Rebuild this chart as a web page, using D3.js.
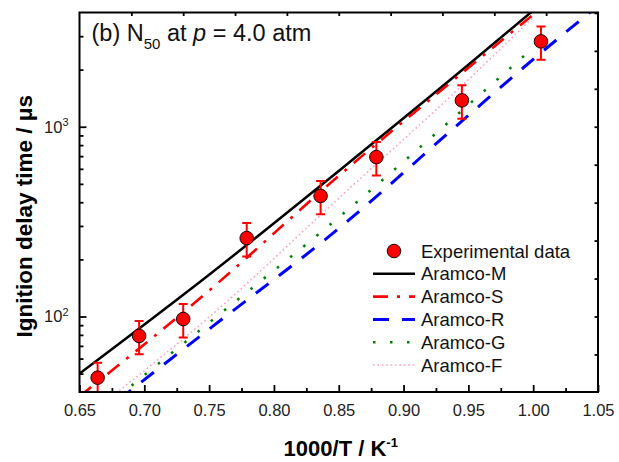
<!DOCTYPE html>
<html>
<head>
<meta charset="utf-8">
<script src="https://cdn.jsdelivr.net/npm/d3@7"></script>
<style>
  body { margin: 0; background: #fff; }
</style>
</head>
<body>
<div id="chart"></div>
<script>
const FONT = "'Liberation Sans', Arial, sans-serif";

// Experimental data: 1000/T, ignition delay (µs), ± error (µs)
const expX   = [0.664, 0.696, 0.730, 0.779, 0.836, 0.879, 0.945, 1.006];
const expY   = [47.6, 79, 97, 259, 432, 692, 1377, 2817];
const expErr = [9.5, 15.8, 19.4, 51.8, 86.4, 138, 275, 563];

// Model predictions
const mX = [0.65, 0.75, 0.85, 0.95, 1.0];
const mY = [50, 166, 585, 2120, 4100];
const sX = [0.65, 0.75, 0.85, 0.95, 1.0];
const sY = [37.9, 137, 551, 2044, 3900];
const rX = [0.68, 0.75, 0.85, 0.95, 1.0, 1.05];
const rY = [36.3, 85.8, 291, 1148, 2265, 4340];
const gX = [0.68, 0.75, 0.85, 0.95, 1.0];
const gY = [38, 92.8, 333, 1304, 2605];
const fX = [0.67, 0.75, 0.85, 0.95, 1.0];
const fY = [35.6, 99.3, 420, 1770, 3780];

// Ticks
const xMajor = [0.65, 0.70, 0.75, 0.80, 0.85, 0.90, 0.95, 1.00, 1.05];
const xMinor = [0.675, 0.725, 0.775, 0.825, 0.875, 0.925, 0.975, 1.025];
const xTop   = [0.69, 0.73, 0.77, 0.81, 0.85, 0.89, 0.93, 0.97, 1.01];
const yMajor = [100, 1000];
const yMinor = [50, 60, 70, 80, 90, 200, 300, 400, 500, 600, 700, 800, 900, 2000, 3000];
const yRightExp = [1.8, 2.0, 2.2, 2.4, 2.6, 2.8, 3.0, 3.2, 3.4, 3.6];

const SERIES = [
  { name: 'Aramco-M', xs: mX, ys: mY, color: '#000000', dash: null,       width: 2.5 },
  { name: 'Aramco-S', xs: sX, ys: sY, color: '#ff0000', dash: '15,9,3,9', width: 2.6 },
  { name: 'Aramco-R', xs: rX, ys: rY, color: '#0000ff', dash: '16,13',    width: 3 },
  { name: 'Aramco-G', xs: gX, ys: gY, color: '#008000', dash: '2.5,14.5', width: 2.6 },
  { name: 'Aramco-F', xs: fX, ys: fY, color: '#ff9ec8', dash: '1.6,2.8',  width: 1.6 },
];

const W = 619, H = 462;
const margin = { top: 12.5, right: 21, bottom: 70, left: 79.5 };
const x0 = margin.left, x1 = W - margin.right;
const y0 = margin.top, y1 = H - margin.bottom;

const svg = d3.select('#chart').append('svg')
  .attr('width', W).attr('height', H)
  .style('font-family', FONT);

const x = d3.scaleLinear().domain([0.65, 1.05]).range([x0, x1]);
const y = d3.scaleLog().domain([40, 4000]).range([y1, y0]);

svg.append('clipPath').attr('id', 'plot-clip')
  .append('rect').attr('x', x0).attr('y', y0).attr('width', x1 - x0).attr('height', y1 - y0);

const plot = svg.append('g').attr('clip-path', 'url(#plot-clip)');

// Model lines
const line = d3.line()
  .x(d => x(d[0]))
  .y(d => y(d[1]))
  .curve(d3.curveMonotoneX);

SERIES.forEach(s => {
  const pts = s.xs.map((v, i) => [v, s.ys[i]]);
  const p = plot.append('path')
    .datum(pts)
    .attr('fill', 'none')
    .attr('stroke', s.color)
    .attr('stroke-width', s.width)
    .attr('d', line);
  if (s.dash) p.attr('stroke-dasharray', s.dash);
});

// Error bars
const capW = 4.5;
expX.forEach((v, i) => {
  const cx = x(v);
  const yt = y(expY[i] + expErr[i]);
  const yb = y(expY[i] - expErr[i]);
  const eb = plot.append('g').attr('stroke', '#ff0000').attr('stroke-width', 2);
  eb.append('line').attr('x1', cx).attr('x2', cx).attr('y1', yt).attr('y2', yb);
  eb.append('line').attr('x1', cx - capW).attr('x2', cx + capW).attr('y1', yt).attr('y2', yt);
  eb.append('line').attr('x1', cx - capW).attr('x2', cx + capW).attr('y1', yb).attr('y2', yb);
});

// Experimental points
plot.selectAll('circle.exp')
  .data(expX.map((v, i) => [v, expY[i]]))
  .enter().append('circle')
  .attr('class', 'exp')
  .attr('cx', d => x(d[0]))
  .attr('cy', d => y(d[1]))
  .attr('r', 6.8)
  .attr('fill', '#ff0000')
  .attr('stroke', '#000')
  .attr('stroke-width', 0.9);

// Axes
function styleAxis(sel) {
  sel.select('.domain').remove();
  sel.selectAll('line').attr('stroke', '#000').attr('stroke-width', 1.8);
  sel.selectAll('text').attr('fill', '#222').style('font-family', FONT).style('font-size', '16.5px');
}

svg.append('g')
  .attr('transform', `translate(0,${y1})`)
  .call(d3.axisBottom(x).tickValues(xMajor).tickSize(-7).tickPadding(12).tickFormat(d3.format('.2f')))
  .call(styleAxis);

svg.append('g')
  .attr('transform', `translate(0,${y1})`)
  .call(d3.axisBottom(x).tickValues(xMinor).tickSize(-4).tickFormat(''))
  .call(styleAxis);

svg.append('g')
  .attr('transform', `translate(0,${y0})`)
  .call(d3.axisTop(x).tickValues(xTop).tickSize(-3.5).tickFormat(''))
  .call(styleAxis);

const yAx = svg.append('g')
  .attr('transform', `translate(${x0},0)`)
  .call(d3.axisLeft(y).tickValues(yMajor).tickSize(-7).tickPadding(11));
styleAxis(yAx);
yAx.selectAll('.tick text').each(function (d) {
  const t = d3.select(this).text('');
  t.append('tspan').text('10');
  t.append('tspan').attr('dy', '-0.55em').style('font-size', '11px').text(Math.round(Math.log10(d)));
});

svg.append('g')
  .attr('transform', `translate(${x0},0)`)
  .call(d3.axisLeft(y).tickValues(yMinor).tickSize(-4).tickFormat(''))
  .call(styleAxis);

svg.append('g')
  .attr('transform', `translate(${x1},0)`)
  .call(d3.axisRight(y).tickValues(yRightExp.map(e => Math.pow(10, e))).tickSize(-3.5).tickFormat(''))
  .call(styleAxis);

// Frame
svg.append('rect')
  .attr('x', x0).attr('y', y0)
  .attr('width', x1 - x0).attr('height', y1 - y0)
  .attr('fill', 'none')
  .attr('stroke', '#000')
  .attr('stroke-width', 2);

// Panel label
const lab = svg.append('text')
  .attr('x', 91.5).attr('y', 41)
  .style('font-size', '23.5px')
  .attr('fill', '#111');
lab.append('tspan').text('(b) N');
lab.append('tspan').attr('dy', 8).style('font-size', '15px').text('50');
lab.append('tspan').attr('dy', -8).text(' at ');
lab.append('tspan').style('font-style', 'italic').text('p');
lab.append('tspan').text(' = 4.0 atm');

// Axis titles
svg.append('text')
  .attr('transform', `translate(32,${(y0 + y1) / 2 + 14}) rotate(-90)`)
  .attr('text-anchor', 'middle')
  .style('font-size', '22.5px')
  .style('font-weight', 'bold')
  .text('Ignition delay time / μs');

const xt = svg.append('text')
  .attr('x', (x0 + x1) / 2 + 2).attr('y', 456)
  .attr('text-anchor', 'middle')
  .style('font-size', '22px')
  .style('font-weight', 'bold');
xt.append('tspan').text('1000/T / K');
xt.append('tspan').attr('dy', -9).style('font-size', '13px').text('-1');

// Legend
const legX = 373, legW = 42, legRow0 = 251, legStep = 22.8;
const legend = svg.append('g').style('font-size', '18.5px');

const r0 = legend.append('g').attr('transform', `translate(0,${legRow0})`);
r0.append('circle').attr('cx', legX + legW / 2).attr('cy', 0).attr('r', 6.8)
  .attr('fill', '#ff0000').attr('stroke', '#000').attr('stroke-width', 0.9);
r0.append('text').attr('x', 421).attr('y', 6.6).attr('fill', '#111').text('Experimental data');

SERIES.forEach((s, i) => {
  const row = legend.append('g').attr('transform', `translate(0,${legRow0 + (i + 1) * legStep})`);
  const l = row.append('line')
    .attr('x1', legX).attr('x2', legX + legW)
    .attr('y1', 0).attr('y2', 0)
    .attr('stroke', s.color)
    .attr('stroke-width', s.width);
  if (s.dash) l.attr('stroke-dasharray', s.dash);
  row.append('text').attr('x', 421).attr('y', 6.6).attr('fill', '#111').text(s.name);
});
</script>
</body>
</html>
